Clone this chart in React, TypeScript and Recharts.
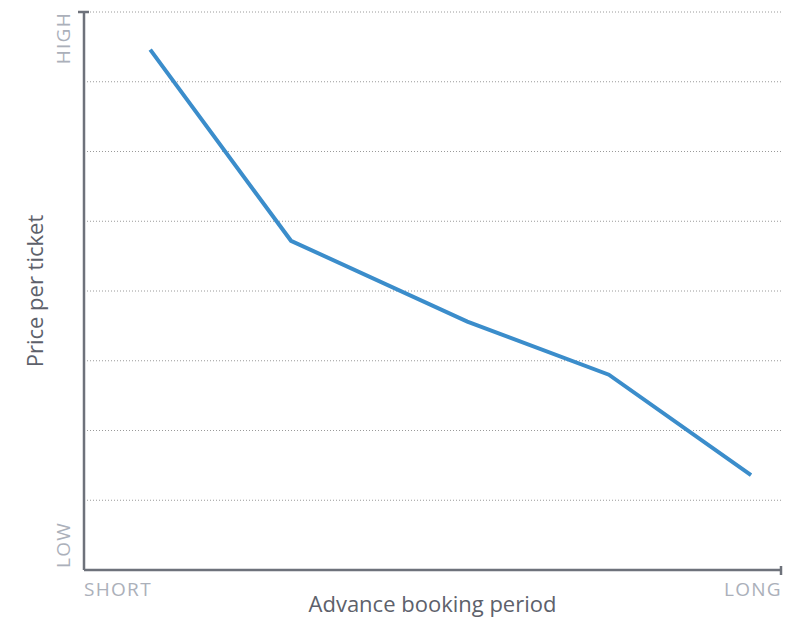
import React from "react";
import { CartesianGrid, Line, LineChart, XAxis, YAxis } from "recharts";

// booking period position (0 = short, 10 = long) and relative price (0 = low, 8 = high)
const periods = [0.95, 2.97, 5.5, 7.53, 9.57];
const prices = [7.46, 4.72, 3.56, 2.8, 1.36];
const xTickLabels = ["SHORT", "LONG"];
const yTickLabels = ["LOW", "HIGH"];
const yGridTicks = [0, 1, 2, 3, 4, 5, 6, 7, 8];

const data = periods.map((p, i) => ({ period: p, price: prices[i] }));

const axisColor = "#6e727b";
const tickColor = "#abb0ba";
const titleColor = "#5d616b";
const font = "'Open Sans', 'Noto Sans', sans-serif";

function YTick(props: any) {
  const { x, y, payload } = props;
  if (payload.value === 0) {
    return (
      <text x={x - 14} y={y - 2} transform={`rotate(-90, ${x - 14}, ${y - 2})`} textAnchor="start"
        fill={tickColor} fontSize={19} letterSpacing={1.3} fontFamily={font}>
        {yTickLabels[0]}
      </text>
    );
  }
  if (payload.value === 8) {
    return (
      <g>
        <line x1={x - 6} x2={x + 5} y1={y} y2={y} stroke={axisColor} strokeWidth={2.5} />
        <text x={x - 14} y={y} transform={`rotate(-90, ${x - 14}, ${y})`} textAnchor="end"
          fill={tickColor} fontSize={19} letterSpacing={1.3} fontFamily={font}>
          {yTickLabels[1]}
        </text>
      </g>
    );
  }
  return <g />;
}

function XTick(props: any) {
  const { x, y, payload } = props;
  if (payload.value === 0) {
    return (
      <text x={x} y={y + 26} textAnchor="start" fill={tickColor} fontSize={19} letterSpacing={1.3} fontFamily={font}>
        {xTickLabels[0]}
      </text>
    );
  }
  return (
    <g>
      <line x1={x} x2={x} y1={y - 4} y2={y + 5} stroke={axisColor} strokeWidth={2.5} />
      <text x={x + 1} y={y + 26} textAnchor="end" fill={tickColor} fontSize={19} letterSpacing={1.3} fontFamily={font}>
        {xTickLabels[1]}
      </text>
    </g>
  );
}

export default function App() {
  return (
    <div style={{ position: "absolute", left: 0, top: 0, background: "#fff" }}>
      <LineChart width={790} height={620} data={data} margin={{ top: 12, right: 9, bottom: 0, left: 0 }}>
        <CartesianGrid vertical={false} stroke="#9a9a9a" strokeDasharray="1 2" />
        <XAxis
          dataKey="period"
          type="number"
          domain={[0, 10]}
          ticks={[0, 10]}
          height={50}
          tickSize={0}
          tickMargin={0}
          tickLine={false}
          axisLine={{ stroke: axisColor, strokeWidth: 2.5 }}
          tick={<XTick />}
          label={{
            content: (p: any) => {
              const vb = p.viewBox;
              return (
                <text x={vb.x + vb.width / 2} y={vb.y + 42} textAnchor="middle" fill={titleColor} fontSize={22} fontFamily={font}>
                  Advance booking period
                </text>
              );
            },
          }}
        />
        <YAxis
          type="number"
          domain={[0, 8]}
          ticks={yGridTicks}
          width={84}
          tickSize={0}
          tickMargin={0}
          tickLine={false}
          axisLine={{ stroke: axisColor, strokeWidth: 2.5 }}
          tick={<YTick />}
          label={{
            content: (p: any) => {
              const vb = p.viewBox;
              const cx = vb.x + 43;
              const cy = vb.y + vb.height / 2;
              return (
                <text x={cx} y={cy} transform={`rotate(-90, ${cx}, ${cy})`} textAnchor="middle" fill={titleColor} fontSize={22} fontFamily={font}>
                  Price per ticket
                </text>
              );
            },
          }}
        />
        <Line
          type="linear"
          dataKey="price"
          stroke="#3b8dcb"
          strokeWidth={4}
          dot={false}
          activeDot={false}
          isAnimationActive={false}
        />
      </LineChart>
    </div>
  );
}
